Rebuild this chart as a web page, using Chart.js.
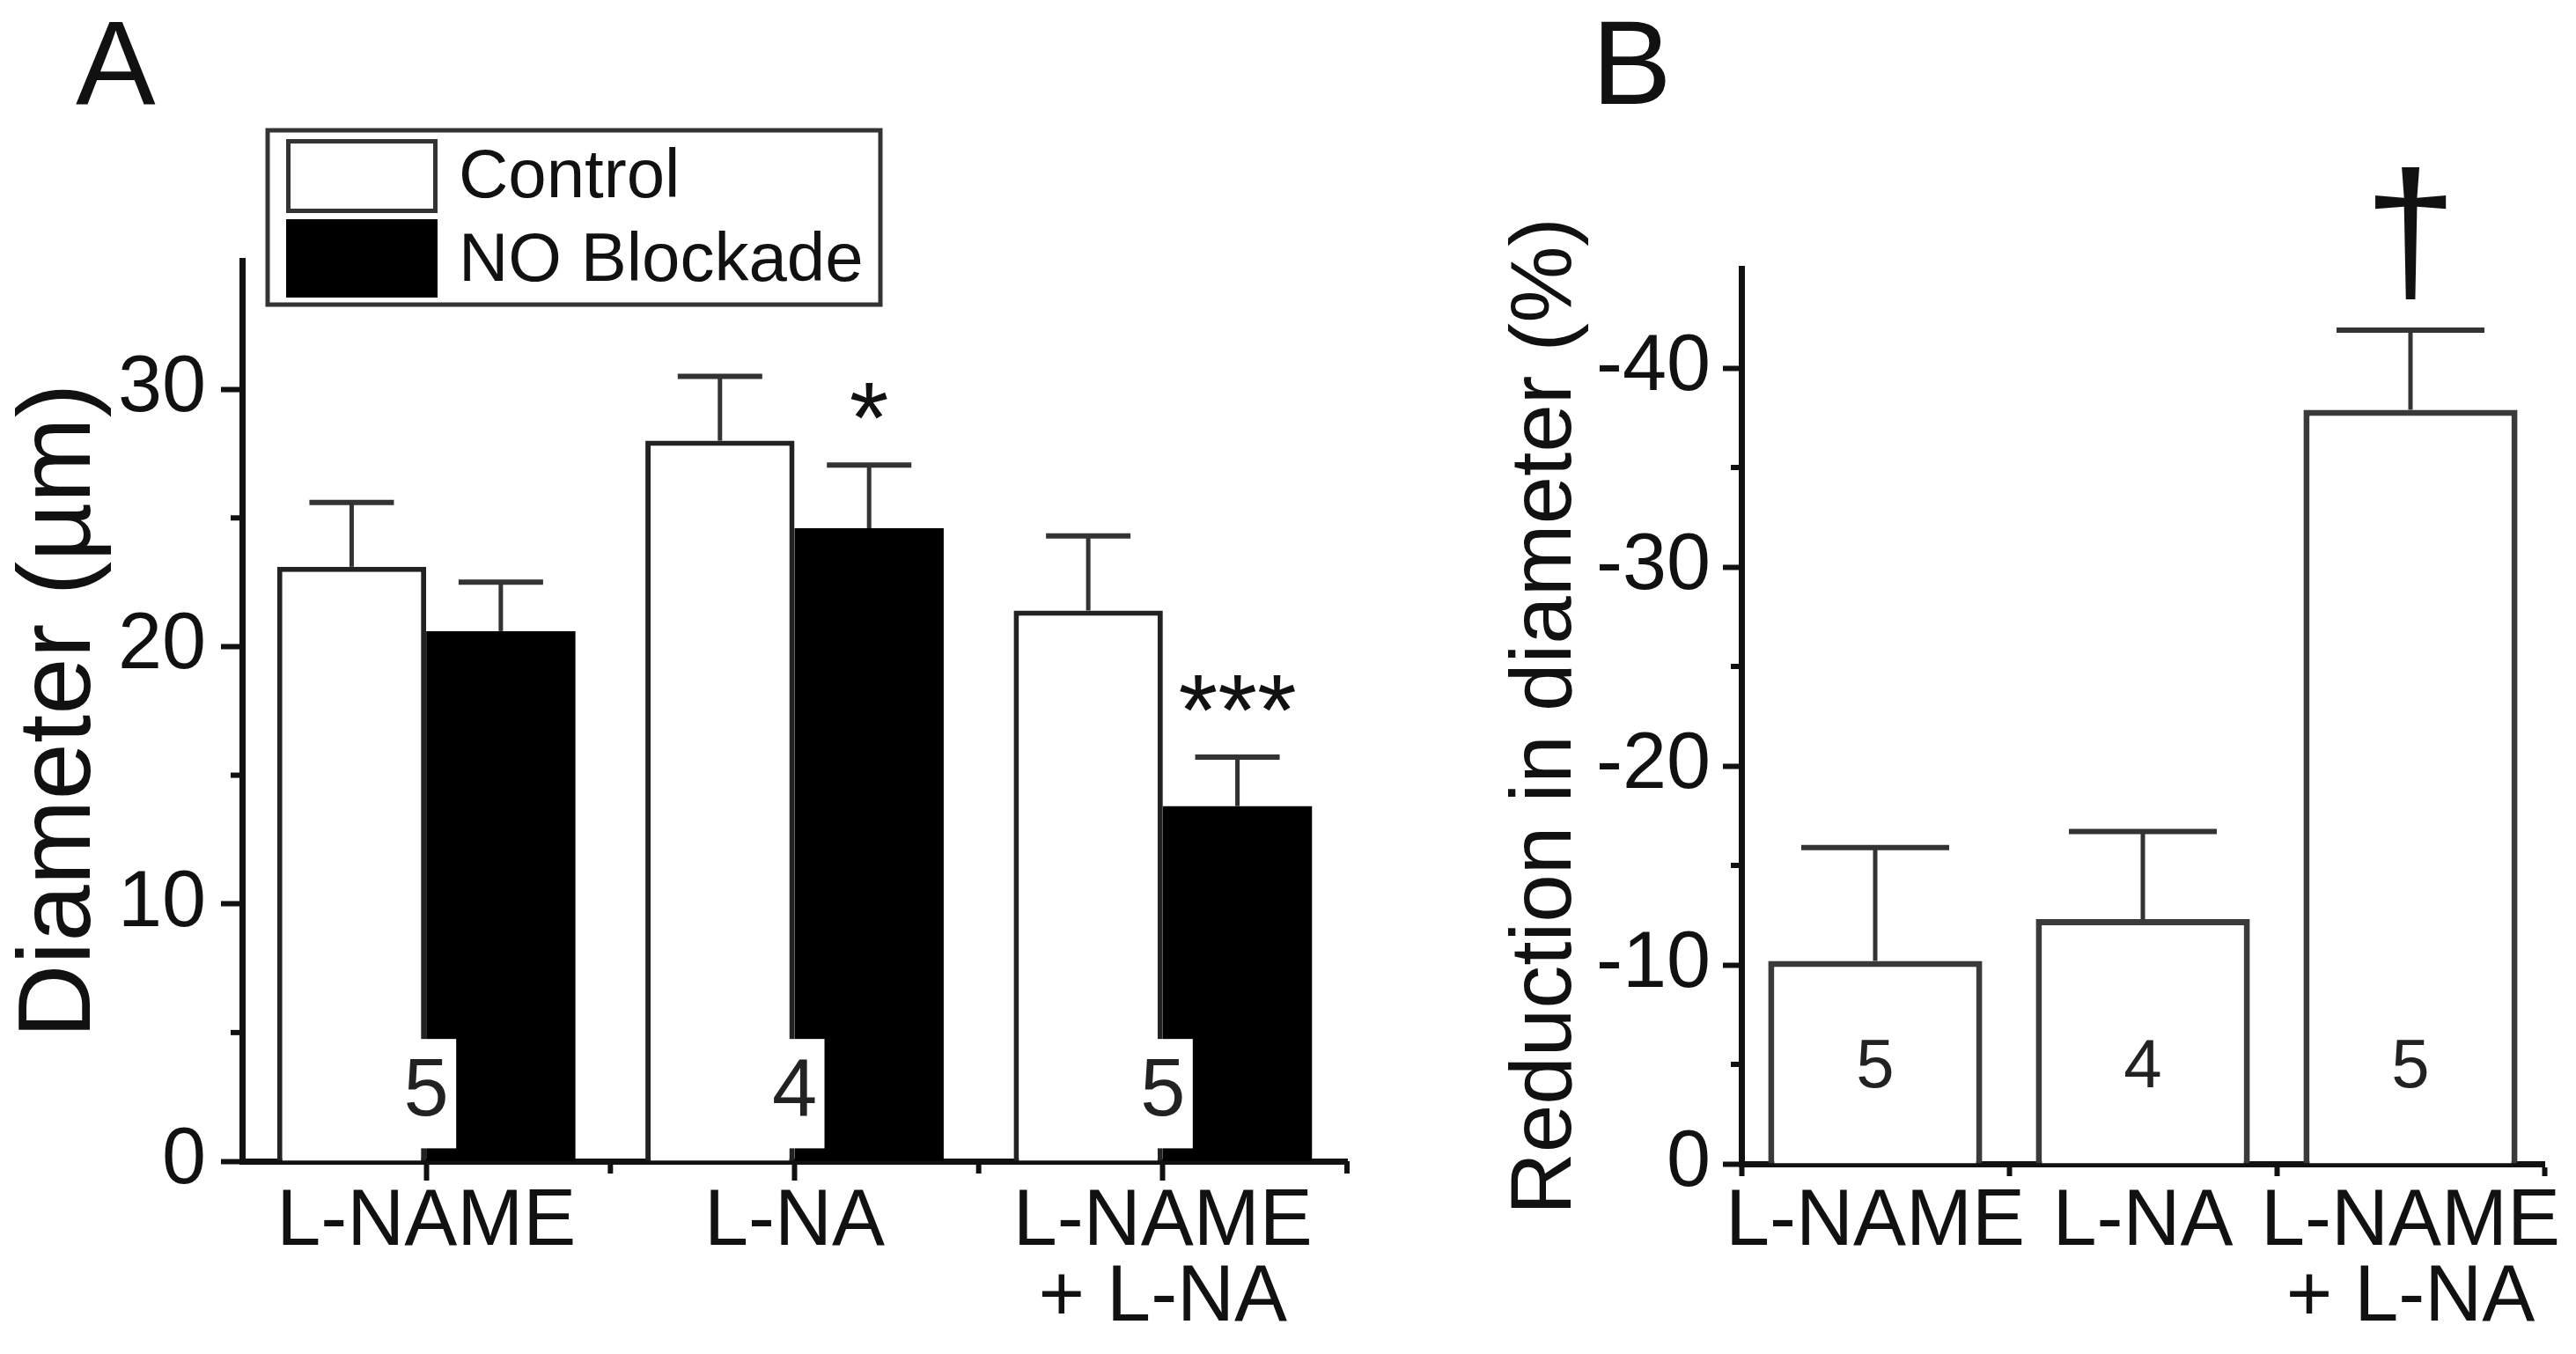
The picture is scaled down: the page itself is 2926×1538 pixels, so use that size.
<!DOCTYPE html>
<html>
<head>
<meta charset="utf-8">
<script src="https://cdn.jsdelivr.net/npm/chart.js@4.4.1/dist/chart.umd.min.js"></script>
<style>
  html, body { margin: 0; padding: 0; background: #fff; }
  body { width: 2926px; height: 1538px; position: relative; overflow: hidden; }
  canvas { position: absolute; top: 0; }
  #chartA { left: 0; }
  #chartB { left: 1580px; }
</style>
</head>
<body>
<canvas id="chartA" width="1580" height="1538"></canvas>
<canvas id="chartB" width="1346" height="1538"></canvas>
<script>
"use strict";

// panel A - diameter
const labelsA = ["L-NAME", "L-NA", ["L-NAME", "+ L-NA"]];
const controlMean = [23.1, 28.0, 21.4];
const controlSem = [2.5, 2.5, 2.9];
const blockadeMean = [20.6, 24.6, 13.8];
const blockadeSem = [1.9, 2.45, 1.9];
const nA = ["5", "4", "5"];
const starsA = ["", "*", "***"];
const ticksA = [0, 10, 20, 30];

// panel B - reduction in diameter
const labelsB = ["L-NAME", "L-NA", ["L-NAME", "+ L-NA"]];
const reductionMean = [-10.2, -12.3, -37.9];
const reductionSem = [5.7, 4.4, 4.0];
const nB = ["5", "4", "5"];
const marksB = ["", "", "†"];
const ticksB = [0, -10, -20, -30, -40];

const FONT = "'Liberation Sans', Arial, sans-serif";
const INK = "#111";

function errorBar(ctx, x, from, to, cap) {
  ctx.strokeStyle = "#333";
  ctx.lineWidth = 5;
  ctx.beginPath();
  ctx.moveTo(x, from);
  ctx.lineTo(x, to);
  ctx.stroke();
  ctx.lineWidth = 6;
  ctx.beginPath();
  ctx.moveTo(x - cap / 2, to);
  ctx.lineTo(x + cap / 2, to);
  ctx.stroke();
}

function minorTicks(chart, values, len) {
  const ctx = chart.ctx;
  const y = chart.scales.y;
  ctx.strokeStyle = INK;
  ctx.lineWidth = 6;
  values.forEach((v) => {
    const py = y.getPixelForValue(v);
    ctx.beginPath();
    ctx.moveTo(chart.chartArea.left, py);
    ctx.lineTo(chart.chartArea.left - len, py);
    ctx.stroke();
  });
}

function letter(ctx, txt, x, y) {
  ctx.fillStyle = INK;
  ctx.font = "136px " + FONT;
  ctx.textAlign = "left";
  ctx.textBaseline = "alphabetic";
  ctx.fillText(txt, x, y);
}

const panelAPlugin = {
  id: "panelA",
  afterDatasetsDraw(chart) {
    const ctx = chart.ctx;
    const y = chart.scales.y;
    const x = chart.scales.x;
    const sems = [controlSem, blockadeSem];
    ctx.save();
    // n boxes
    nA.forEach((n, j) => {
      const px = x.getPixelForValue(j);
      const t = y.getPixelForValue(4.75);
      const b = y.getPixelForValue(0.5);
      ctx.fillStyle = "#fff";
      ctx.fillRect(px - 42, t, 76, b - t);
      ctx.fillStyle = "#222";
      ctx.font = "92px " + FONT;
      ctx.textAlign = "center";
      ctx.textBaseline = "middle";
      ctx.fillText(n, px, y.getPixelForValue(2.65));
    });
    // error bars
    chart.data.datasets.forEach((ds, i) => {
      const meta = chart.getDatasetMeta(i);
      meta.data.forEach((bar, j) => {
        const top = y.getPixelForValue(ds.data[j] + sems[i][j]);
        errorBar(ctx, bar.x, bar.y, top, 96);
        if (i === 1 && starsA[j]) {
          ctx.fillStyle = INK;
          ctx.font = "115px " + FONT;
          ctx.textAlign = "center";
          ctx.textBaseline = "alphabetic";
          ctx.fillText(starsA[j], bar.x, top - 14);
        }
      });
    });
    ctx.restore();
  },
  afterDraw(chart) {
    const ctx = chart.ctx;
    const area = chart.chartArea;
    const x = chart.scales.x;
    ctx.save();
    minorTicks(chart, [5, 15, 25], 13);
    // category boundary ticks
    ctx.lineWidth = 6;
    for (let j = 0; j < labelsA.length; j++) {
      const px = j < labelsA.length - 1 ? (x.getPixelForValue(j) + x.getPixelForValue(j + 1)) / 2 : area.right;
      ctx.beginPath();
      ctx.moveTo(px, area.bottom);
      ctx.lineTo(px, area.bottom + 14);
      ctx.stroke();
    }
    // legend
    const lx = 304, ly = 148, lw = 696, lh = 198;
    ctx.fillStyle = "#fff";
    ctx.fillRect(lx, ly, lw, lh);
    ctx.strokeStyle = "#333";
    ctx.lineWidth = 5;
    ctx.strokeRect(lx, ly, lw, lh);
    chart.data.datasets.forEach((ds, i) => {
      const sy = i === 0 ? 158 : 249;
      const sh = i === 0 ? 84 : 89;
      ctx.fillStyle = ds.backgroundColor;
      ctx.fillRect(325, sy, 172, sh);
      if (i === 0) {
        ctx.lineWidth = 5;
        ctx.strokeStyle = "#333";
        ctx.strokeRect(327.5, sy + 2.5, 167, sh - 5);
      }
      ctx.fillStyle = INK;
      ctx.font = "78px " + FONT;
      ctx.textAlign = "left";
      ctx.textBaseline = "alphabetic";
      ctx.fillText(ds.label, 521, i === 0 ? 224 : 319);
    });
    letter(ctx, "A", 86, 118);
    ctx.restore();
  },
};

const panelBPlugin = {
  id: "panelB",
  afterDatasetsDraw(chart) {
    const ctx = chart.ctx;
    const y = chart.scales.y;
    ctx.save();
    const meta = chart.getDatasetMeta(0);
    meta.data.forEach((bar, j) => {
      const top = y.getPixelForValue(reductionMean[j] - reductionSem[j]);
      errorBar(ctx, bar.x, bar.y, top, 168);
      ctx.fillStyle = "#222";
      ctx.font = "78px " + FONT;
      ctx.textAlign = "center";
      ctx.textBaseline = "middle";
      ctx.fillText(nB[j], bar.x, y.getPixelForValue(-4.8));
      if (marksB[j]) {
        ctx.fillStyle = INK;
        ctx.font = "190px " + FONT;
        ctx.textBaseline = "alphabetic";
        ctx.fillText(marksB[j], bar.x, top - 48);
      }
    });
    ctx.restore();
  },
  afterDraw(chart) {
    const ctx = chart.ctx;
    ctx.save();
    minorTicks(chart, [-5, -15, -25, -35], 12);
    letter(ctx, "B", 228, 118);
    ctx.restore();
  },
};

Chart.defaults.font.family = FONT;
Chart.defaults.color = INK;

new Chart(document.getElementById("chartA"), {
  type: "bar",
  data: {
    labels: labelsA,
    datasets: [
      {
        label: "Control",
        data: controlMean,
        backgroundColor: "#fff",
        borderColor: "#222",
        borderWidth: 6,
        borderSkipped: "start",
      },
      {
        label: "NO Blockade",
        data: blockadeMean,
        backgroundColor: "#000",
        borderWidth: 0,
      },
    ],
  },
  options: {
    responsive: false,
    animation: false,
    devicePixelRatio: 1,
    layout: { padding: { left: 0, top: 296, right: 50, bottom: 0 } },
    plugins: { legend: { display: false }, tooltip: { enabled: false } },
    datasets: { bar: { categoryPercentage: 0.81, barPercentage: 1 } },
    scales: {
      x: {
        grid: { offset: false, drawOnChartArea: false, tickLength: 22, tickWidth: 6, tickColor: INK },
        border: { color: INK, width: 7 },
        ticks: { color: INK, padding: 5, maxRotation: 0, autoSkip: false, font: { size: 90, lineHeight: 0.96 } },
        afterFit: (s) => { s.height = 219; },
      },
      y: {
        min: 0,
        max: 35,
        afterBuildTicks: (s) => { s.ticks = ticksA.map((v) => ({ value: v })); },
        ticks: { color: INK, padding: 17, font: { size: 90 } },
        grid: { drawOnChartArea: false, tickLength: 24, tickWidth: 6, tickColor: INK },
        border: { color: INK, width: 7 },
        title: {
          display: true,
          text: "Diameter (µm)",
          color: INK,
          font: { size: 116, lineHeight: 1.2 },
          padding: { top: 0, bottom: 0 },
        },
        afterFit: (s) => { s.width = 275; },
      },
    },
  },
  plugins: [panelAPlugin],
});

new Chart(document.getElementById("chartB"), {
  type: "bar",
  data: {
    labels: labelsB,
    datasets: [
      {
        label: "Reduction",
        data: reductionMean,
        backgroundColor: "#fff",
        borderColor: "#3a3a3a",
        borderWidth: 7,
        borderSkipped: "start",
      },
    ],
  },
  options: {
    responsive: false,
    animation: false,
    devicePixelRatio: 1,
    layout: { padding: { left: 0, top: 305, right: 36, bottom: 0 } },
    plugins: { legend: { display: false }, tooltip: { enabled: false } },
    datasets: { bar: { categoryPercentage: 0.8, barPercentage: 1 } },
    scales: {
      x: {
        grid: { offset: true, drawOnChartArea: false, tickLength: 14, tickWidth: 6, tickColor: INK },
        border: { color: INK, width: 7 },
        ticks: { color: INK, padding: 10, maxRotation: 0, autoSkip: false, font: { size: 90, lineHeight: 0.96 } },
        afterFit: (s) => { s.height = 216; },
      },
      y: {
        min: -45,
        max: 0,
        reverse: true,
        afterBuildTicks: (s) => { s.ticks = ticksB.map((v) => ({ value: v })); },
        ticks: { color: INK, padding: 14, font: { size: 90 }, callback: (v) => String(v) },
        grid: { drawOnChartArea: false, tickLength: 21, tickWidth: 6, tickColor: INK },
        border: { color: INK, width: 7 },
        title: {
          display: true,
          text: "Reduction in diameter (%)",
          color: INK,
          font: { size: 98, lineHeight: 1.2 },
          padding: { top: 118, bottom: 0 },
        },
        afterFit: (s) => { s.width = 398; },
      },
    },
  },
  plugins: [panelBPlugin],
});
</script>
</body>
</html>
